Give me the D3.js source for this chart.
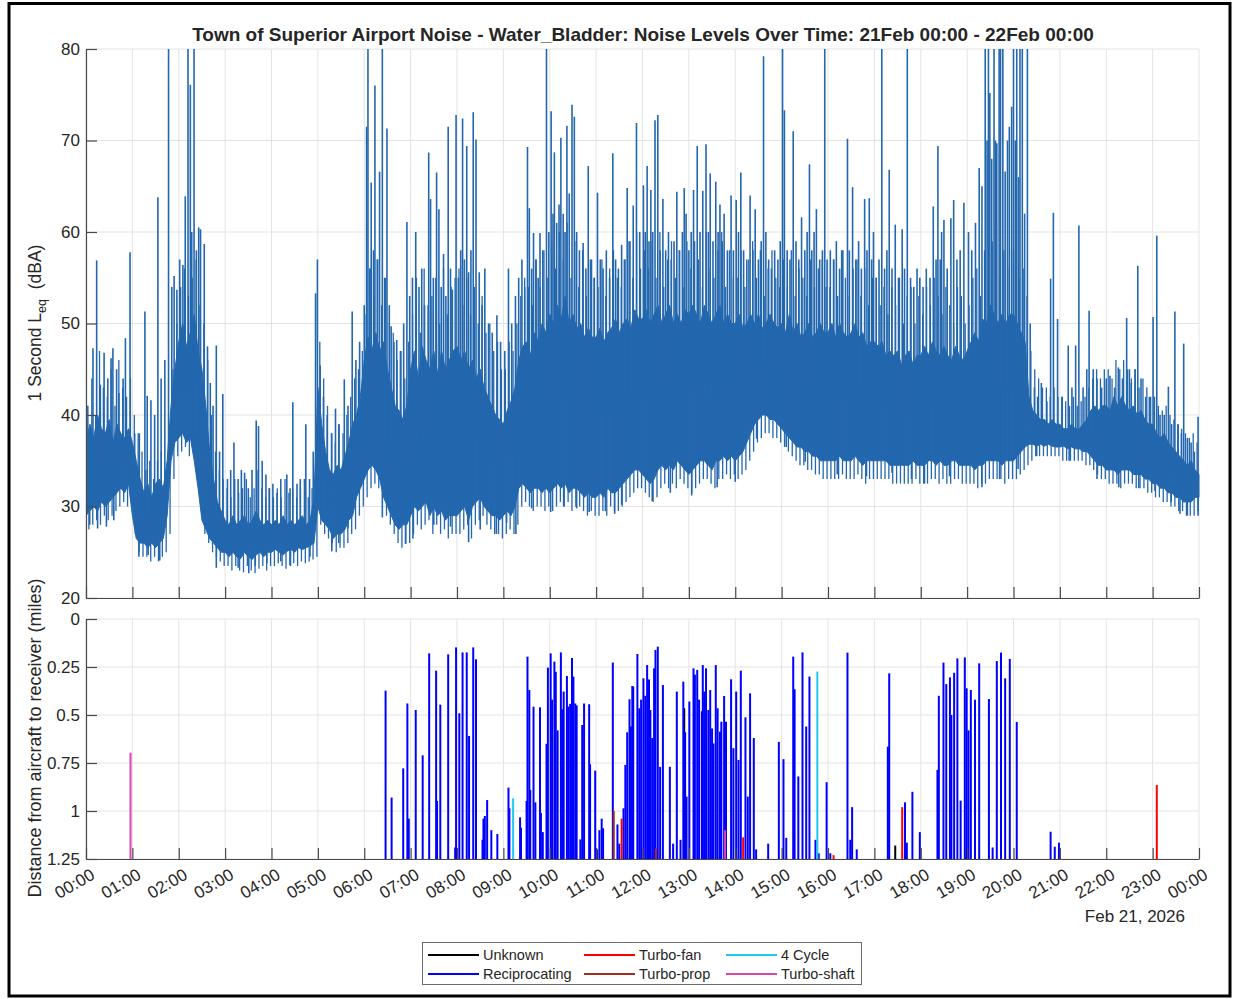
<!DOCTYPE html>
<html><head><meta charset="utf-8">
<script src="https://cdn.jsdelivr.net/npm/d3@7"></script>
<style>
body{margin:0;background:#fff;}
svg text{font-family:"Liberation Sans",Arial,Helvetica,sans-serif;fill:#262626;}
</style>
</head><body>
<svg id="c" width="1233" height="999"></svg>
<script>
// ---------------- DATA ----------------
const hourLabels = ["00:00","01:00","02:00","03:00","04:00","05:00","06:00","07:00","08:00","09:00","10:00","11:00","12:00","13:00","14:00","15:00","16:00","17:00","18:00","19:00","20:00","21:00","22:00","23:00","00:00"];
const dbTicks = [20,30,40,50,60,70,80];
const distTicks = [0,0.25,0.5,0.75,1,1.25];
const distTickLabels = ["0","0.25","0.5","0.75","1","1.25"];

// 5-minute edges of the dense 1-second Leq band (dBA), points at 00:00, 00:05, ... 24:00
const coreHi = [
 37,39,37.5,40,38.5,38,39.5,37,39,38,37.5,38.5,
 37,35,33,31.5,32.5,31,32.5,33,32,35,41,45,
 48,50,47.5,49,51,47,45,41,36,33,30.5,29.5,
 28.5,28,29,28,28.5,29,28,28.5,29.5,28.5,28,28.5,
 28,28.5,28,29,28,28.5,28,28.5,29,28,28.5,31,
 43,39,36,34,33.5,34.5,34,35.5,37,39,40,42,
 46,48.5,47,49,47,48,45,43,41,40.5,39.5,41,
 45,47,44,47.5,46,45,47,44.5,47,45,46,47,
 47.5,46,47,45,46,44,45,43,42,41,40,39.5,
 39,40.5,41.5,43,46,47.5,48,46.5,49,48,50,49,
 51,50,52,50.5,53,50,51,49.5,50,48.5,49.5,48.5,
 48.5,49.5,48,49,49.5,50.5,49,50,50.5,49.5,51.5,50.5,
 50.5,51.5,50,51,52,50,51,52,50,51,50,51.5,
 51,52,51,50,52,51,50,51,52,50,51,50,
 50,51,49.5,50,51,50,51,49.5,50,51,50,49.5,
 50,49,51,49,50,48.5,49,50,48.5,49,50,49,
 49,50,48.5,50,49,48.5,49,50,48.5,49,47.5,48,
 48,47.5,48,46.5,47,46.5,47,45.5,46.5,47,45.5,46.5,
 46.5,47.5,46.5,48,47,46.5,47.5,46.5,46,47.5,46.5,46,
 47,48,49,48,50.5,50,52,51,50,51,50,51,
 51,50,49,48,42,40.5,40,39.5,39.5,39,39.5,39,
 39,38.5,38.5,39,38.5,38.5,39,39.5,40.5,41,40.5,41,
 41,40.5,42,41,42,41,40.5,41,40,40.5,39.5,39,
 39,38,37.5,38,37,36.5,36,35.5,35,34.5,35,34,
 33.5];
const coreLo = [
 29,29.5,30,29.5,30.5,30,30.5,31,31.5,32,31.5,32.5,
 29,26.5,26,26,25.5,26,25.5,26,26.5,29,35,37,
 37.5,38,37,37.5,35,32,28.5,27.5,26.5,26,25.5,25,
 25,24.5,25,24.5,24.3,25,24.5,24.2,24.7,25,24.5,25,
 25,25.3,25,24.7,25.1,25.3,25,25.5,25.3,25.5,25.7,26,
 30,28.5,28,27.5,26.5,27,27,27.5,28.5,29,31,32,
 33,34,34.5,34,33,31,30,29,28,27.5,28,28,
 29,30,29.5,30,30.5,29,30,29,29.5,28.5,29,29,
 29,29.5,30,28.5,30,30.5,31,30,29.5,29,29,28.5,
 29,29.5,29,30,32,32.5,32,31.5,32,32,31.5,32,
 31.5,32,32.5,32,32.5,31.5,32,32,31.5,31,31.5,31,
 31,31.5,31,32,31.5,31.5,32,32.5,33,33.5,34,34,
 33.5,33,32.5,33,34,34.5,34,34.5,34,35,34.5,34,
 33.5,34,34.5,35,35,34.5,34,35,35,35.5,35,35.5,
 35,35.5,36,37,38,39,39.5,40,40,39.5,39.5,39,
 38.5,38,37.5,37,36.5,36.5,36,36,35.5,35.5,35,35,
 35,35,35,35.5,35,35,35,35.5,35,34.5,35,35,
 35,35,35,35,34.5,34.5,34.5,34.5,34.5,34.5,35,34.5,
 34.5,34.5,35,35,34.5,35,34.5,34.5,35,35,34.5,34.5,
 34.5,34.5,34,34.5,34.5,35,35,35,35,34.5,35,35,
 35,35.5,36,36.5,36.8,36.8,36.6,36.8,36.6,36.8,36.6,36.5,
 36.5,36.6,36.3,36.5,36.3,36.3,36,36,35.5,35,34.5,34.5,
 34,34,34,33.5,34,34,34,33.5,33.5,33.5,33,33,
 32.5,32.5,32,32,31.5,31.5,31,31,30.5,30.5,30.5,31,
 31];

// 5-minute maxima and minima of the 1-second Leq (dBA), bins starting 00:00
const peak5 = [
 41,44,40,47,43,42,45,41,46,43,42,44,
 40,38,36,34,35,33,35,36,34,38,45,50,
 54,56,53,55,57,52,50,46,40,36,34,33,
 32,31,33,31.5,32,33,31,32,34,32,31,32,
 31,32,31,33,31.5,32,31,32,33,31,32,36,
 48,44,41,38,37,39,38,40,42,44,45,47,
 51,56,53,57,52,55,50,49,46,47,44,48,
 51,55,49,56,52,53,55,50,56,51,54,55,
 56,52,55,51,54,50,53,49,50,47,48,45,
 45,48,47,50,53,55,54,52,57,54,58,55,
 59,56,60,57,61,55,59,54,58,53,57,55,
 54,57,53,56,58,55,54,57,59,55,60,56,
 58,56,59,55,60,54,57,59,55,58,54,59,
 56,59,57,54,60,56,55,58,60,54,58,55,
 55,58,54,57,59,55,58,53,56,58,55,54,
 57,54,58,53,56,55,53,57,54,56,57,54,
 54,57,53,58,55,53,56,57,53,56,52,55,
 55,52,54,51,54,52,55,50,53,54,50,53,
 51,54,52,55,53,51,54,52,50,54,53,50,
 52,55,56,53,58,55,59,57,55,58,56,58,
 58,55,56,53,47,45,44,43,43,42,43,42,
 42,41.5,41,42,41,41.5,42,43,44,45,44,45,
 45,44,46,45,46,45,44,45,43,44,43,42,
 42,41,40.5,41,40,39.5,39,38.5,38,37.5,38,37];
const low5 = [
 27.5,28,28.5,28,29,28.5,29,29.5,30,30.5,30,31,
 27,25,24.5,24.5,24,24.5,24,24.5,25,27,33,35.5,
 36,36.5,35.5,36,33,30,27,26,25,24.5,24,23.5,
 23.5,23,23.5,23,22.8,23.5,23,22.7,23.2,23.5,23,23.5,
 23.5,23.8,23.5,23.2,23.6,23.8,23.5,24,23.8,24,24.2,24.5,
 28,27,26.5,26,25,25.5,25.5,26,27,27.5,29,30,
 31,32,32.5,32,31,29,28,27,26,25.5,26,26,
 27,28,27.5,28,28.5,27,28,27,27.5,26.5,27,27,
 27,27.5,28,26.5,28,28.5,29,28,27.5,27,27,26.5,
 27,27.5,27,28,30,30.5,30,29.5,30,30,29.5,30,
 29.5,30,30.5,30,30.5,29.5,30,30,29.5,29,29.5,29,
 29,29.5,29,30,29.5,29.5,30,30.5,31,31.5,32,32,
 31.5,31,30.5,31,32,32.5,32,32.5,32,33,32.5,32,
 31.5,32,32.5,33,33,32.5,32,33,33,33.5,33,33.5,
 33,33.5,34,35,36,37,37.5,38,38,37.5,37.5,37,
 36.5,36,35.5,35,34.5,34.5,34,34,33.5,33.5,33,33,
 33,33,33,33.5,33,33,33,33.5,33,32.5,33,33,
 33,33,33,33,32.5,32.5,32.5,32.5,32.5,32.5,33,32.5,
 32.5,32.5,33,33,32.5,33,32.5,32.5,33,33,32.5,32.5,
 32.5,32.5,32,32.5,32.5,33,33,33,33,32.5,33,33,
 33,33.5,34,34.5,35,35.5,35.5,35.5,35.5,35.5,35.5,35.5,
 35,35,35,35,35,35,34.5,34.5,34,33.5,33,33,
 32.5,32.5,32.5,32,32.5,32.5,32.5,32,32,32,31.5,31.5,
 31,31,30.5,30.5,30,30,29.5,29.5,29,29,29,29.5];

// individual 1-second peaks: [hour, dBA]
const spikes = [
[0.02,41],[0.15,47.3],[0.23,56.9],[0.31,43.3],[0.39,46.8],[0.47,44],[0.54,46.2],[0.58,47.3],[0.66,45],[0.71,42.4],[0.80,44],[0.85,48.4],[0.95,57.8],
[1.05,38],[1.15,38],[1.27,51.3],[1.32,42.1],[1.40,41.6],[1.48,40],[1.55,63.8],[1.62,44],[1.70,46],[1.78,82],[1.85,54],[1.90,55.2],[1.96,53.7],
[2.02,57],[2.09,56.4],[2.14,63.9],[2.20,82],[2.25,76.1],[2.28,60],[2.33,82],[2.38,58],[2.43,60.5],[2.47,60.3],[2.55,58.7],[2.62,47.5],[2.68,43.5],[2.74,41],[2.81,47.6],[2.88,36],[2.95,42.3],
[3.05,33],[3.12,34],[3.19,37],[3.28,33],[3.35,34],[3.42,33.7],[3.5,32],[3.58,34],[3.67,39.4],[3.72,38.8],[3.80,35],[3.88,33.5],[3.95,32],
[4.03,32.5],[4.12,31.5],[4.2,33],[4.33,33.5],[4.40,32],[4.46,41.4],[4.55,32.5],[4.62,33],[4.74,39],[4.82,33],[4.9,36],[4.95,53.3],[4.99,57],
[5.05,45.4],[5.12,42],[5.20,40],[5.30,38],[5.38,40.7],[5.45,39],[5.57,43.9],[5.65,41],[5.74,51.3],[5.82,46],[5.90,48],
[6.00,52],[6.05,71.5],[6.08,82],[6.12,56],[6.15,65.4],[6.20,58],[6.23,76],[6.28,57],[6.33,66.6],[6.39,82],[6.44,55],[6.49,71.3],[6.54,52],[6.58,49.7],[6.64,48],[6.70,48.2],[6.78,47],[6.85,50],
[6.92,61.1],[6.98,53],[7.04,55],[7.11,60],[7.18,54],[7.24,56],[7.30,52],[7.39,68.7],[7.43,63.6],[7.49,55],[7.56,66.5],[7.61,62.5],[7.66,54],[7.71,57.6],[7.76,53],[7.81,71.5],[7.86,56],[7.90,53.7],[7.98,72.8],[8.03,55],[8.08,58],[8.12,72.4],[8.16,57],[8.21,69.4],[8.25,55.6],[8.30,58],[8.35,73.1],[8.41,70.1],[8.48,55.6],[8.54,52],[8.60,56],[8.68,50],[8.76,49],[8.86,50.9],[8.94,48],
[9.03,47],[9.11,56],[9.18,50],[9.26,53],[9.33,55],[9.40,57],[9.46,54],[9.52,69.3],[9.56,62.6],[9.61,56],[9.65,59.9],[9.70,57],[9.75,55],[9.79,59.9],[9.85,58],[9.93,82],[9.98,60],[10.03,73.2],[10.07,62],[10.10,68.7],[10.15,61],[10.20,63],[10.24,70.3],[10.29,62],[10.33,60],[10.37,71.6],[10.42,64.2],[10.48,73.9],[10.53,72.6],[10.58,60],[10.64,58],[10.72,58.8],[10.78,56],[10.83,67.2],[10.90,57],[10.96,55],[11.03,64.3],[11.09,57],[11.15,56],[11.22,58],[11.29,55],[11.36,68.6],[11.42,57],[11.48,56],[11.55,58.6],[11.61,57],[11.67,64.8],[11.73,59],[11.80,62.9],[11.87,71.9],[11.94,60],
[12.02,65.1],[12.06,60],[12.10,67.2],[12.14,59],[12.18,64.6],[12.22,60],[12.27,72.2],[12.33,72.8],[12.38,58],[12.44,63.6],[12.50,58],[12.56,60],[12.62,57],[12.68,59],[12.74,64.4],[12.80,58],[12.86,60],[12.90,64.8],[12.94,62],[13.00,58],[13.05,60],[13.10,64.6],[13.18,69.4],[13.24,60],[13.30,64.5],[13.37,69.6],[13.42,60],[13.46,66.4],[13.52,59],[13.58,65.5],[13.63,60],[13.67,63],[13.72,59],[13.76,62],[13.83,58],[13.91,64],[13.96,58],[14.02,63.5],[14.07,60],[14.12,66.5],[14.18,58],[14.25,57],[14.32,64],[14.38,58],[14.43,62.5],[14.50,57],[14.56,59],[14.61,79.2],[14.66,60],[14.72,57],[14.78,56],[14.85,58],[14.92,57],[14.97,59],
[15.02,82],[15.06,73.3],[15.12,58],[15.18,57],[15.25,71],[15.31,59],[15.37,57],[15.43,61.6],[15.50,58],[15.55,60],[15.60,67.4],[15.65,58],[15.70,60],[15.75,62.5],[15.82,57],[15.88,58],[15.93,82],[15.98,57],
[16.05,58],[16.12,57],[16.18,59],[16.25,56],[16.32,58],[16.42,70.2],[16.46,58],[16.53,64.9],[16.60,57],[16.66,59],[16.72,56],[16.79,63.6],[16.84,58],[16.89,63.7],[16.94,57],[16.98,60],
[17.04,55],[17.10,57],[17.16,82],[17.22,56],[17.27,58],[17.32,66.8],[17.38,56],[17.45,60.8],[17.52,55],[17.60,60.3],[17.65,56],[17.71,82],[17.78,55],[17.85,54],[17.92,56],[17.98,55],
[18.05,54],[18.12,56],[18.20,55],[18.27,62.8],[18.33,57],[18.37,69.4],[18.42,57],[18.45,60],[18.50,61.3],[18.57,56],[18.65,61.5],[18.71,63.5],[18.78,57],[18.85,58],[18.93,63.2],[19.03,60],[19.10,58],[19.18,61],[19.26,67],[19.32,65],[19.39,82],[19.43,70],[19.46,82],[19.49,75.2],[19.53,68],[19.58,82],[19.61,70],[19.64,69.7],[19.69,82],[19.72,82],[19.77,82],[19.82,66.6],[19.87,70],[19.91,71.5],[19.96,73.7],[20.00,82],[20.04,70],[20.07,82],[20.11,66],[20.14,82],[20.19,82],[20.24,62],[20.30,82],[20.36,50],
[20.45,43],[20.52,42],[20.60,43.5],[20.72,41.5],[20.80,54.9],[20.86,62.1],[20.95,50.5],[21.05,42],[21.18,47.6],[21.26,43],[21.34,47.6],[21.41,60.7],[21.50,43],[21.58,45],[21.63,51.4],[21.72,45],[21.80,44],[21.9,43],
[22.00,44],[22.08,44.3],[22.18,43],[22.26,45.2],[22.35,44],[22.44,50.6],[22.50,45],[22.54,43.5],[22.62,45],[22.68,56.3],[22.75,44],[22.85,42],[22.93,42],
[23.01,50.7],[23.09,59.6],[23.16,40],[23.25,40],[23.34,43.1],[23.41,39],[23.48,51.3],[23.55,39],[23.62,38],[23.67,47.8],[23.75,37.5],[23.83,37],[23.90,36],[23.98,39.8]
];
// individual 1-second minima: [hour, dBA]
const dips = [[0.0,26.9],[0.08,28],[0.25,27.6],[0.44,27.8],[0.6,28.5],[1.14,24.5],[1.34,24.7],[1.59,24.1],[2.81,23.3],[3.28,23.3],[3.51,22.7],[3.65,23.5],[3.9,23.8],[4.2,24],[4.41,23.5],[4.83,24.5],[5.30,25.1],[5.45,26],[5.65,27.6],[6.39,28.8],[6.89,25.9],[7.05,26.5],[7.5,28],[7.86,27.8],[8.25,26.1],[8.5,27.5],[8.85,27],[9.07,28.2],[9.27,27],[9.61,29.8],[10.02,29.4],[10.3,30],[10.58,29.8],[10.85,29.4],[11.2,29.5],[11.40,29.2],[11.55,30.2],[12.21,30.6],[12.6,31.5],[13.06,31.2],[13.61,32.1],[14.0,32.7],[14.46,37.4],[15.1,36.5],[15.51,34.9],[16.2,33.5],[16.83,33.3],[17.38,33.7],[17.8,33],[18.08,32.5],[18.62,33.3],[19.32,32.1],[19.7,33],[20.10,34.1],[20.5,35.5],[21.2,35],[21.8,33],[22.27,32.1],[22.7,32],[23.05,31.7],[23.4,30.5],[23.59,29.2],[23.75,29.0],[23.98,29]];

// aircraft passes: [hour, closest distance (miles)]
const unknownAc = [[12.90,0.465],[17.45,1.18]];
const reciprocating = [[6.46,0.373],[6.59,0.93],[6.84,0.778],[6.93,0.44],[6.96,1.04],[7.11,0.474],[7.26,0.71],[7.40,0.179],[7.55,0.269],[7.57,0.948],[7.64,0.446],[7.81,0.184],[7.96,1.19],[7.98,0.148],[8.05,0.491],[8.12,0.174],[8.21,0.174],[8.26,0.609],[8.35,0.148],[8.41,0.21],[8.55,1.15],[8.57,1.04],[8.60,1.026],[8.65,0.943],[8.74,1.10],[8.87,1.12],[9.11,0.878],[9.13,0.986],[9.36,1.033],[9.38,1.087],[9.50,0.948],[9.52,0.196],[9.56,0.37],[9.58,0.89],[9.65,0.457],[9.69,0.955],[9.79,0.46],[9.81,1.01],[9.85,1.11],[9.93,0.65],[9.96,0.253],[10.02,0.179],[10.05,0.42],[10.10,0.222],[10.13,0.275],[10.17,0.58],[10.24,0.174],[10.27,0.47],[10.30,0.378],[10.37,0.297],[10.40,0.456],[10.44,0.442],[10.48,0.203],[10.51,0.30],[10.55,0.44],[10.58,0.45],[10.66,1.148],[10.70,0.552],[10.74,0.44],[10.85,0.444],[10.87,0.757],[10.98,0.79],[11.02,1.2],[11.07,1.1],[11.12,1.04],[11.15,1.09],[11.36,0.227],[11.46,1.07],[11.50,1.17],[11.59,0.986],[11.63,0.76],[11.67,0.59],[11.72,0.418],[11.75,0.56],[11.78,0.349],[11.80,0.352],[11.89,0.182],[11.93,0.465],[11.97,0.42],[12.02,0.309],[12.06,0.40],[12.10,0.24],[12.14,0.315],[12.17,0.474],[12.21,0.62],[12.25,0.257],[12.28,0.161],[12.33,0.144],[12.38,0.77],[12.44,0.344],[12.59,0.77],[12.66,1.17],[12.74,0.378],[12.82,1.15],[12.88,0.326],[12.92,0.59],[12.95,0.925],[13.01,0.43],[13.10,0.257],[13.13,0.29],[13.18,0.265],[13.22,0.42],[13.28,0.48],[13.30,0.24],[13.33,0.378],[13.37,0.257],[13.42,0.474],[13.46,0.37],[13.50,0.57],[13.53,0.648],[13.58,0.24],[13.62,0.465],[13.67,0.587],[13.70,0.535],[13.76,0.401],[13.80,0.535],[13.91,0.314],[13.96,0.673],[14.02,0.378],[14.07,0.734],[14.12,0.269],[14.22,0.512],[14.27,0.925],[14.32,0.387],[14.40,0.62],[14.45,1.2],[14.71,1.17],[14.94,0.64],[15.04,0.73],[15.10,1.14],[15.25,0.196],[15.28,0.366],[15.36,0.82],[15.45,0.174],[15.53,0.56],[15.60,0.30],[15.73,1.15],[15.80,1.22],[15.97,0.85],[16.05,1.22],[16.42,0.175],[16.48,1.15],[16.52,0.98],[16.62,1.2],[17.29,0.665],[17.32,0.283],[17.66,0.955],[17.70,1.165],[17.82,0.90],[17.98,1.11],[18.36,0.786],[18.39,0.40],[18.49,0.227],[18.55,0.339],[18.63,0.304],[18.66,0.50],[18.72,0.28],[18.79,0.205],[18.86,0.946],[18.95,0.20],[18.99,0.361],[19.03,0.58],[19.08,0.37],[19.17,0.42],[19.26,0.231],[19.47,0.417],[19.55,1.19],[19.64,0.219],[19.73,0.175],[19.82,0.309],[19.92,0.208],[20.07,0.536],[20.80,1.108],[20.89,1.186],[20.98,1.165]];
const turboFan = [[11.55,1.04],[14.17,1.137],[16.12,1.23],[17.60,0.98],[23.09,0.865]];
const fourCycle = [[9.21,0.934],[15.77,0.274]];
const turboProp = [[11.38,1.0],[12.29,1.195]];
const turboShaft = [[0.96,0.696],[13.78,1.1]];

const legendNames = ["Unknown","Turbo-fan","4 Cycle","Reciprocating","Turbo-prop","Turbo-shaft"];
const legendColors = ["#000000","#ff0000","#1ec8f0","#0000ff","#a52a1e","#d946b4"];

// ---------------- DRAW ----------------
const svg = d3.select("#c");
const W = 1233, H = 999;
const L = 86, R = 1199;
const topY0 = 49, topY1 = 598, botY0 = 619, botY1 = 859;
const gridC = "#e3e3e3", axisC = "#4a4a4a", noiseC = "#2367ae";

svg.append("rect").attr("x",0).attr("y",0).attr("width",W).attr("height",H).attr("fill","#fff");
svg.append("rect").attr("x",9).attr("y",3.5).attr("width",1221).attr("height",992.5)
  .attr("fill","none").attr("stroke","#000").attr("stroke-width",3);

const x = d3.scaleLinear().domain([0,24]).range([L,R]);
const yT = d3.scaleLinear().domain([20,80]).range([topY1,topY0]);
const yB = d3.scaleLinear().domain([0,1.25]).range([botY0,botY1]);
const hours = d3.range(25);

function grid(g, yScale, yVals, y0, y1){
  g.selectAll(".vg").data(hours).join("line")
    .attr("x1",d=>x(d)).attr("x2",d=>x(d)).attr("y1",y0).attr("y2",y1)
    .attr("stroke",gridC).attr("stroke-width",1);
  g.selectAll(".hg").data(yVals).join("line")
    .attr("x1",L).attr("x2",R).attr("y1",d=>yScale(d)).attr("y2",d=>yScale(d))
    .attr("stroke",gridC).attr("stroke-width",1);
}
grid(svg.append("g"), yT, dbTicks, topY0, topY1);
grid(svg.append("g"), yB, distTicks, botY0, botY1);

const defs = svg.append("defs");
defs.append("clipPath").attr("id","clipT").append("rect").attr("x",L).attr("y",topY0).attr("width",R-L+1).attr("height",topY1-topY0);
defs.append("clipPath").attr("id","clipB").append("rect").attr("x",L).attr("y",botY0).attr("width",R-L+1).attr("height",botY1-botY0);

// noise band
const band = coreLo.map((lo,i)=>({t:i/12, lo, hi:coreHi[i]}));
const gN = svg.append("g").attr("clip-path","url(#clipT)");
gN.append("path").datum(band)
  .attr("d", d3.area().x(d=>x(d.t)).y0(d=>yT(d.lo)).y1(d=>yT(d.hi)))
  .attr("fill",noiseC).attr("stroke",noiseC).attr("stroke-width",1).attr("stroke-linejoin","miter");
const midAt = t => {
  const f = Math.max(0, Math.min(24, t))*12, i = Math.min(Math.floor(f), band.length-2), r = f - i;
  const m0 = (band[i].lo+band[i].hi)/2, m1 = (band[i+1].lo+band[i+1].hi)/2;
  return m0 + (m1-m0)*r;
};
const fine = peak5.map((p,i)=>({t:(i+0.5)/12, p, m:low5[i]}));
const vline = (sel, tf, vf, w) => sel
  .attr("x1",d=>x(tf(d))).attr("x2",d=>x(tf(d)))
  .attr("y1",d=>yT(midAt(tf(d)))).attr("y2",d=>yT(vf(d)))
  .attr("stroke",noiseC).attr("stroke-width",w);
vline(gN.append("g").selectAll("line").data(fine).join("line"), d=>d.t, d=>d.p, 1.3);
vline(gN.append("g").selectAll("line").data(fine).join("line"), d=>d.t+1/48, d=>d.m, 1.3);
vline(gN.append("g").selectAll("line").data(spikes).join("line"), d=>d[0], d=>d[1], 1.6);
vline(gN.append("g").selectAll("line").data(dips).join("line"), d=>d[0], d=>d[1], 1.6);

// aircraft passes
const gB = svg.append("g").attr("clip-path","url(#clipB)");
const series = [[unknownAc,legendColors[0]],[reciprocating,legendColors[3]],[turboFan,legendColors[1]],[turboProp,legendColors[4]],[fourCycle,legendColors[2]],[turboShaft,legendColors[5]]];
series.forEach(([arr,col])=>{
  gB.append("g").selectAll("line").data(arr).join("line")
    .attr("x1",d=>x(d[0])).attr("x2",d=>x(d[0]))
    .attr("y1",yB(1.25)).attr("y2",d=>yB(d[1]))
    .attr("stroke",col).attr("stroke-width",2);
});

// axes
function styleAxis(g){
  g.select(".domain").attr("stroke",axisC).attr("stroke-width",1.2);
  g.selectAll(".tick line").attr("stroke",axisC).attr("stroke-width",1.2);
  g.selectAll(".tick text").attr("fill","#262626").style("font-size","17px").style("font-family",'"Liberation Sans",Arial,sans-serif');
}
const axTL = svg.append("g").attr("transform",`translate(${L},0)`)
  .call(d3.axisLeft(yT).tickValues(dbTicks).tickSizeInner(-11).tickSizeOuter(0).tickPadding(6));
styleAxis(axTL);
const axTB = svg.append("g").attr("transform",`translate(0,${topY1})`)
  .call(d3.axisBottom(x).tickValues(hours).tickSizeInner(-11).tickSizeOuter(0).tickFormat(""));
styleAxis(axTB);
const axBL = svg.append("g").attr("transform",`translate(${L},0)`)
  .call(d3.axisLeft(yB).tickValues(distTicks).tickSizeInner(-11).tickSizeOuter(0).tickPadding(6).tickFormat((d,i)=>distTickLabels[i]));
styleAxis(axBL);
const axBB = svg.append("g").attr("transform",`translate(0,${botY1})`)
  .call(d3.axisBottom(x).tickValues(hours).tickSizeInner(-11).tickSizeOuter(0).tickFormat((d,i)=>hourLabels[i]));
styleAxis(axBB);
axBB.selectAll(".tick text")
  .attr("y",null).attr("dy",null)
  .attr("text-anchor","end")
  .attr("transform","translate(3,8) rotate(-30)")
  .attr("dy","0.75em");

// titles
svg.append("text").attr("x",643).attr("y",41).attr("text-anchor","middle")
  .style("font-weight","bold").style("font-size","19px").attr("fill","#000")
  .text("Town of Superior Airport Noise - Water_Bladder: Noise Levels Over Time: 21Feb 00:00 - 22Feb 00:00");

const yl = svg.append("text").attr("transform","translate(41,323) rotate(-90)").attr("text-anchor","middle")
  .style("font-size","17.5px");
yl.append("tspan").text("1 Second L");
yl.append("tspan").attr("dy","5").style("font-size","12.5px").text("eq");
yl.append("tspan").attr("dy","-5").text("\u00a0\u00a0(dBA)");

svg.append("text").attr("transform","translate(41,738) rotate(-90)").attr("text-anchor","middle")
  .style("font-size","18px").text("Distance from aircraft to receiver (miles)");

svg.append("text").attr("x",1185).attr("y",922).attr("text-anchor","end")
  .style("font-size","17px").text("Feb 21, 2026");

// legend
const lg = svg.append("g");
lg.append("rect").attr("x",422.5).attr("y",942.5).attr("width",439).attr("height",42)
  .attr("fill","#fff").attr("stroke","#6b6b6b").attr("stroke-width",1);
const colX = [428,584,726];
const rowY = [955,974];
legendNames.forEach((n,i)=>{
  const c = i%3, r = Math.floor(i/3);
  lg.append("line").attr("x1",colX[c]).attr("x2",colX[c]+51).attr("y1",rowY[r]).attr("y2",rowY[r])
    .attr("stroke",legendColors[i]).attr("stroke-width",1.8);
  lg.append("text").attr("x",colX[c]+55).attr("y",rowY[r]+5).style("font-size","14.5px").text(n);
});
</script>
</body></html>
